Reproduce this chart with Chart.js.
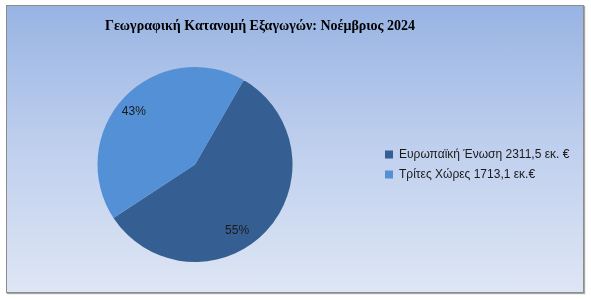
<!DOCTYPE html>
<html>
<head>
<meta charset="utf-8">
<script src="https://cdn.jsdelivr.net/npm/chart.js@4"></script>
<style>
  html, body { margin: 0; padding: 0; background: #fff; }
  #wrap { position: relative; width: 591px; height: 300px; }
  #frame {
    position: absolute; left: 6px; top: 5px; width: 576px; height: 286px;
    border: 1px solid #8c8c8c;
    background: linear-gradient(to bottom, #98b4e3 0%, #bccded 45%, #dee6f4 100%);
    box-shadow: 1px 1px 1px rgba(0,0,0,0.35);
  }
  canvas { position: absolute; left: 0; top: 0; }
</style>
</head>
<body>
<div id="wrap">
  <div id="frame"></div>
  <canvas id="pie" width="591" height="300"></canvas>
</div>
<script>
const title = 'Γεωγραφική Κατανομή Εξαγωγών: Νοέμβριος 2024';
const categories = ['Ευρωπαϊκή Ένωση 2311,5 εκ. €', 'Τρίτες Χώρες 1713,1 εκ.€'];
const values = [2311.5, 1713.1];
const pctLabels = ['55%', '43%'];
const colors = ['#355f92', '#5490d6'];

const legendFont = '12px "Liberation Sans", Arial, sans-serif';
const boxW = 8;
const legPad = 8;

// work out right padding so the legend sits where it does in the picture
const mctx = document.createElement('canvas').getContext('2d');
mctx.font = legendFont;
const textW = Math.max(...categories.map(c => mctx.measureText(c).width));
const itemW = boxW + 6 + textW;
const padRight = Math.max(0, 591 - (385 - legPad) - (legPad + itemW) - 10);

// label nudges (Excel "best fit" puts them a bit off the slice middle)
const labelAngleShift = [14, -2.5];
const labelRadius = [0.8, 0.83];

const extras = {
  id: 'extras',
  afterDatasetsDraw(chart) {
    const ctx = chart.ctx;
    ctx.save();
    ctx.font = '12px "Liberation Sans", Arial, sans-serif';
    ctx.fillStyle = '#1a1a1a';
    ctx.textAlign = 'center';
    ctx.textBaseline = 'middle';
    chart.getDatasetMeta(0).data.forEach((arc, i) => {
      const p = arc.getProps(['x', 'y', 'startAngle', 'endAngle', 'outerRadius'], true);
      const mid = (p.startAngle + p.endAngle) / 2 + labelAngleShift[i] * Math.PI / 180;
      const r = p.outerRadius * labelRadius[i];
      ctx.fillText(pctLabels[i], p.x + Math.cos(mid) * r, p.y + Math.sin(mid) * r);
    });
    // title
    ctx.font = 'bold 14px "Liberation Serif", "Times New Roman", serif';
    ctx.fillStyle = '#000';
    ctx.fillText(title, 260, 26);
    ctx.restore();
  }
};

new Chart(document.getElementById('pie'), {
  type: 'pie',
  data: {
    labels: categories,
    datasets: [{ data: values, backgroundColor: colors, borderWidth: 0 }]
  },
  options: {
    responsive: false,
    animation: false,
    rotation: 30,
    layout: { padding: { left: 13, right: padRight, top: 67, bottom: 38 } },
    plugins: {
      legend: {
        position: 'right',
        labels: {
          boxWidth: boxW,
          boxHeight: boxW,
          padding: legPad,
          color: '#1a1a1a',
          font: { family: '"Liberation Sans", Arial, sans-serif', size: 12 }
        }
      },
      tooltip: { enabled: false }
    }
  },
  plugins: [extras]
});
</script>
</body>
</html>
